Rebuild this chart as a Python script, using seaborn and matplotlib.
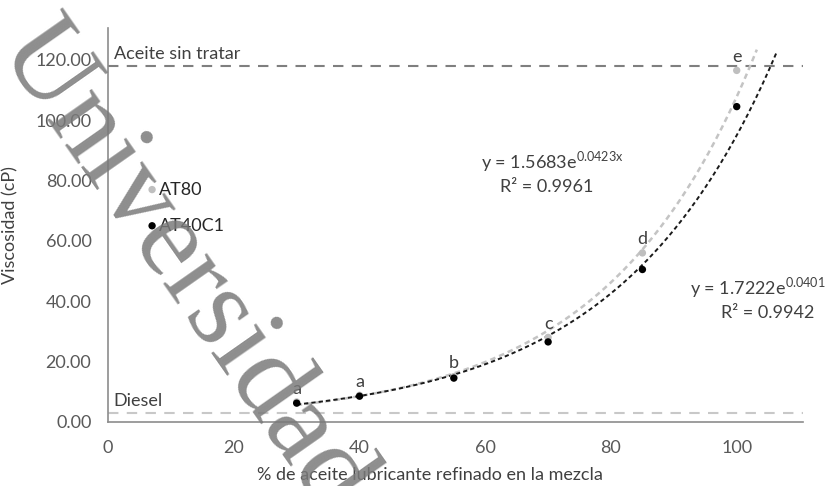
import numpy as np
import pandas as pd
import matplotlib
matplotlib.use("Agg")
import matplotlib.pyplot as plt
import seaborn as sns

# Mezclas: % de aceite lubricante refinado y viscosidad medida
pct = [30, 40, 55, 70, 85, 100]
visc_at40c1 = [6.2, 8.5, 14.5, 26.5, 50.5, 104.5]
visc_at80 = [6.6, 8.8, 15.0, 28.0, 56.0, 116.5]
letters = ["a", "a", "b", "c", "d", "e"]

# Puntos de referencia de cada aceite tratado
ref_names = ["AT80", "AT40C1"]
ref_x = [7, 7]
ref_y = [77, 65]

# Líneas de referencia
aceite_sin_tratar = 118.0
diesel = 3.0

# Ajustes exponenciales y = a·e^(b·x)
fit_at80 = (1.5683, 0.0423, 0.9961)
fit_at40c1 = (1.7222, 0.0401, 0.9942)

sns.set_theme(style="white")
plt.rcParams["font.family"] = ["Lato", "DejaVu Sans"]
FS = 13

fig = plt.figure(figsize=(8.25, 4.86), dpi=100)
ax = fig.add_axes([0.131, 0.132, 0.842, 0.810])

tick_col = "#595959"
txt_col = "#404040"

# Líneas horizontales de referencia
ax.axhline(aceite_sin_tratar, color="#7f7f7f", lw=1.5, ls=(0, (5, 4)), zorder=1)
ax.axhline(diesel, color="#c8c8c8", lw=1.5, ls=(0, (5, 4)), zorder=1)
ax.text(0.9, aceite_sin_tratar + 1.2, "Aceite sin tratar", fontsize=FS,
        color=txt_col, va="bottom", ha="left")
ax.text(0.9, diesel + 1.2, "Diesel", fontsize=FS, color=txt_col,
        va="bottom", ha="left")

# Curvas de tendencia
def trend(fit, x0, x1):
    a, b, _ = fit
    xs = np.linspace(x0, x1, 200)
    return pd.DataFrame({"x": xs, "y": a * np.exp(b * xs)})

t80 = trend(fit_at80, 30, 103.2)
t40 = trend(fit_at40c1, 30, 106.4)
sns.lineplot(data=t80, x="x", y="y", ax=ax, color="#c4c4c4", lw=1.8,
             linestyle=(0, (2.2, 1.6)), zorder=2)
sns.lineplot(data=t40, x="x", y="y", ax=ax, color="#1a1a1a", lw=1.4,
             linestyle=(0, (2.2, 1.6)), zorder=3)

# Datos medidos
df80 = pd.DataFrame({"x": pct, "y": visc_at80})
df40 = pd.DataFrame({"x": pct, "y": visc_at40c1})
sns.scatterplot(data=df80, x="x", y="y", ax=ax, color="#bfbfbf", s=28,
                edgecolor="none", zorder=4)
sns.scatterplot(data=df40, x="x", y="y", ax=ax, color="#000000", s=28,
                edgecolor="none", zorder=5)

for x, y, lab in zip(pct, visc_at80, letters):
    ax.text(x, y + 1.8, lab, ha="center", va="bottom", fontsize=FS,
            color=txt_col, zorder=6)

# Puntos de los aceites tratados
refdf = pd.DataFrame({"x": ref_x, "y": ref_y, "n": ref_names})
sns.scatterplot(data=refdf.iloc[[0]], x="x", y="y", ax=ax, color="#bfbfbf",
                s=28, edgecolor="none", zorder=4)
sns.scatterplot(data=refdf.iloc[[1]], x="x", y="y", ax=ax, color="#000000",
                s=28, edgecolor="none", zorder=5)
for x, y, n in zip(ref_x, ref_y, ref_names):
    ax.text(x + 1.1, y, n, ha="left", va="center", fontsize=FS,
            color="#262626", zorder=6)

# Ecuaciones de ajuste
def eq_label(a, b):
    return f"y = {a:.4f}e$^{{\\mathregular{{{b:.4f}x}}}}$"

a, b, r2 = fit_at80
ax.text(59.3, 82.3, eq_label(a, b), ha="left", va="bottom",
        fontsize=FS, color=txt_col)
ax.text(69.7, 80.5, f"R² = {r2:.4f}", ha="center", va="top",
        fontsize=FS, color=txt_col)
a, b, r2 = fit_at40c1
ax.text(92.6, 40.4, eq_label(a, b), ha="left", va="bottom",
        fontsize=FS, color=txt_col, clip_on=False)
ax.text(105.0, 38.8, f"R² = {r2:.4f}", ha="center", va="top",
        fontsize=FS, color=txt_col, clip_on=False)

# Ejes
ax.set_xlim(0, 110.5)
ax.set_ylim(0, 130.5)
ax.set_xticks([0, 20, 40, 60, 80, 100])
ax.set_yticks([0, 20, 40, 60, 80, 100, 120])
ax.set_yticklabels([f"{v:.2f}" for v in [0, 20, 40, 60, 80, 100, 120]])
ax.tick_params(axis="both", labelsize=FS, colors=tick_col, length=0)
ax.tick_params(axis="x", pad=13)
ax.tick_params(axis="y", pad=12)
ax.set_xlabel("% de aceite lubricante refinado en la mezcla", fontsize=FS,
              color=txt_col)
ax.xaxis.set_label_coords(0.463, -0.115)
ax.set_ylabel("Viscosidad (cP)", fontsize=FS, color=txt_col, labelpad=12)
for side in ["top", "right"]:
    ax.spines[side].set_visible(False)
for side in ["left", "bottom"]:
    ax.spines[side].set_color("#8c8c8c")
    ax.spines[side].set_linewidth(1.2)

# Marca de agua
fig.text(0.222, 0.449, "Universidad", rotation=-55, fontsize=84,
         family="Liberation Serif", color="#7a7a7a", alpha=0.85,
         ha="center", va="center", zorder=10)

fig.savefig("out.png", dpi=100, facecolor="white")
